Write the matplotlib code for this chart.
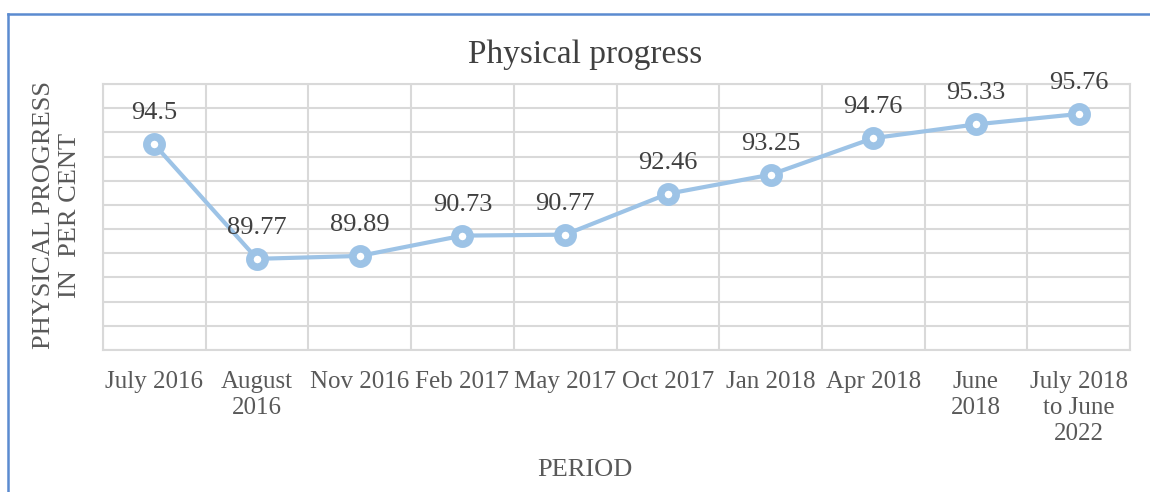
import matplotlib.pyplot as plt
from matplotlib.lines import Line2D

periods = ["July 2016", "August\n2016", "Nov 2016", "Feb 2017", "May 2017",
           "Oct 2017", "Jan 2018", "Apr 2018", "June\n2018",
           "July 2018\nto June\n2022"]
progress = [94.5, 89.77, 89.89, 90.73, 90.77, 92.46, 93.25, 94.76, 95.33, 95.76]

plt.rcParams['font.family'] = ['Liberation Serif', 'DejaVu Serif']

line_col = '#9DC3E6'
grid_col = '#D9D9D9'
text_col = '#404040'
tick_col = '#595959'

fig = plt.figure(figsize=(11.5, 4.92), dpi=100)
ax = fig.add_axes([103 / 1150, 1 - 350 / 492, 1027 / 1150, 266 / 492])

x = list(range(len(periods)))
ax.plot(x, progress, color=line_col, lw=3, marker='o', ms=11,
        mew=5.5, mec=line_col, mfc='white', zorder=3)

for xi, v in zip(x, progress):
    ax.annotate(f"{v:g}", (xi, v), xytext=(0, 18), textcoords='offset points',
                ha='center', va='baseline', fontsize=19, color=text_col)

ax.set_xlim(-0.5, len(periods) - 0.5)
ax.set_ylim(86, 97)
ax.set_yticks(range(86, 98))
ax.set_xticks(x)
ax.set_xticklabels(periods, fontsize=18, color=tick_col, linespacing=1.25)
ax.set_xticks([i + 0.5 for i in range(-1, len(periods))], minor=True)
ax.tick_params(axis='x', which='both', length=0, pad=15)
ax.tick_params(axis='y', length=0, labelleft=False)
ax.grid(axis='y', color=grid_col, lw=1.5)
ax.grid(axis='x', which='minor', color=grid_col, lw=1.5)
ax.set_axisbelow(True)
for s in ax.spines.values():
    s.set_color(grid_col)
    s.set_linewidth(1.5)

fig.text(585 / 1150, 1 - 55 / 492, "Physical progress", ha='center',
         va='center', fontsize=24, color=text_col)
fig.text(585 / 1150, 1 - 470 / 492, "PERIOD", ha='center', va='center',
         fontsize=19, color=tick_col)
fig.text(57 / 1150, 1 - 215 / 492, "PHYSICAL PROGRESS\nIN  PER CENT",
         rotation=90, ha='center', va='center', fontsize=19, color=tick_col,
         linespacing=1.25, multialignment='center')

border = '#5B8BD0'
fig.lines.append(Line2D([8 / 1150, 8 / 1150], [0, 1 - 14 / 492],
                        transform=fig.transFigure, color=border, lw=1.8))
fig.lines.append(Line2D([8 / 1150, 1], [1 - 14 / 492, 1 - 14 / 492],
                        transform=fig.transFigure, color=border, lw=1.8))

fig.savefig('out.png', dpi=100)
